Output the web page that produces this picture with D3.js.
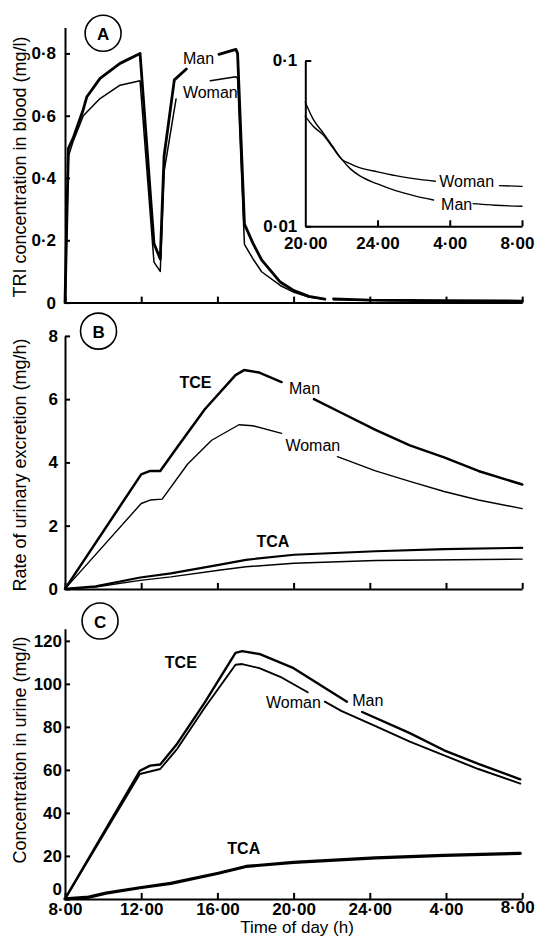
<!DOCTYPE html>
<html>
<head>
<meta charset="utf-8">
<script src="https://cdnjs.cloudflare.com/ajax/libs/d3/7.8.5/d3.min.js"></script>
<style>
body { margin: 0; background: #fff; }
text { font-family: "Liberation Sans", Arial, sans-serif; fill: #000; }
.axis path, .axis line { stroke: #000; stroke-width: 2; fill: none; }
.axis text { font-size: 17px; font-weight: bold; }
</style>
</head>
<body>
<div id="chart-area"></div>
<script>
// hours after 8.00 on day 1
var hourTicks = [0, 4, 8, 12, 16, 20, 24];
var hourLabels = ["8·00", "12·00", "16·00", "20·00", "24·00", "4·00", "8·00"];
var insetTicks = [12, 16, 20, 24];
var insetLabels = ["20·00", "24·00", "4·00", "8·00"];

var bloodTicks = [0, 0.2, 0.4, 0.6, 0.8];
var bloodLabels = ["0", "0·2", "0·4", "0·6", "0·8"];
var insetYTicks = [0.01, 0.1];
var insetYLabels = ["0·01", "0·1"];
var rateTicks = [0, 2, 4, 6, 8];
var urineTicks = [0, 20, 40, 60, 80, 100, 120];

// A: TRI in blood (mg/l), [hour, value], null = break in the line
var bloodMan = [[0, 0], [0.18, 0.495], [0.44, 0.53], [0.96, 0.62], [1.14, 0.66], [1.84, 0.72], [2.89, 0.768], [3.94, 0.80],
  [4.67, 0.19], [5.0, 0.14], [5.2, 0.47], [5.74, 0.715], [6.37, 0.75], null,
  [8.08, 0.797], [8.97, 0.813], [9.06, 0.80], [9.42, 0.252], [9.87, 0.19], [10.32, 0.137], [11.3, 0.066], [12.02, 0.0385], [12.8, 0.02], [13.64, 0.011], null,
  [14.1, 0.012], [16, 0.008], [20, 0.006], [24, 0.005]];
var bloodWoman = [[0, 0], [0.18, 0.47], [0.44, 0.52], [0.96, 0.60], [1.84, 0.655], [2.89, 0.698], [3.94, 0.712],
  [4.67, 0.13], [5.0, 0.10], [5.2, 0.42], [5.83, 0.654], null,
  [7.63, 0.712], [8.97, 0.725], [9.06, 0.72], [9.42, 0.187], [9.87, 0.14], [10.32, 0.099], [11.3, 0.055], [12.02, 0.033], [12.8, 0.018], [13.64, 0.011], null,
  [14.1, 0.009], [18, 0.006], [24, 0.004]];

// A inset: log scale, 20.00 - 8.00
var insetMan = [[12, 0.056], [12.45, 0.044], [13, 0.0365], [13.5, 0.0305], [14, 0.0255], [14.5, 0.0222], [15, 0.0202], [16, 0.0180], [17, 0.0164], [18, 0.0153], [19.1, 0.0144], null,
  [21.3, 0.0137], [22.5, 0.0134], [24, 0.0132]];
var insetWoman = [[12, 0.046], [12.45, 0.040], [13, 0.0355], [13.5, 0.0300], [14, 0.0255], [14.5, 0.0238], [15, 0.0226], [16, 0.0213], [17, 0.0202], [18, 0.0194], [19.2, 0.0187], null,
  [22.75, 0.0176], [24, 0.0174]];

// B: urinary excretion rate (mg/h)
var rateTceMan = [[0, 0], [4.0, 3.62], [4.47, 3.73], [5.0, 3.73], [5.9, 4.49], [7.34, 5.68], [8.95, 6.76], [9.4, 6.92], [10.2, 6.84], [11.37, 6.54], null,
  [13.07, 6.0], [14.5, 5.57], [16.3, 5.03], [18.1, 4.54], [19.9, 4.16], [21.7, 3.73], [24, 3.30]];
var rateTceWoman = [[0, 0], [4.0, 2.70], [4.47, 2.81], [5.1, 2.84], [6.44, 3.95], [7.7, 4.70], [9.13, 5.19], [9.85, 5.16], [11.37, 4.92], null,
  [14.3, 4.18], [16.3, 3.73], [18.1, 3.40], [19.9, 3.08], [21.7, 2.81], [24, 2.54]];
var rateTcaMan = [[0, 0], [1.6, 0.08], [3.95, 0.36], [5.56, 0.49], [8.07, 0.76], [9.5, 0.92], [12.02, 1.08], [16.3, 1.19], [19.9, 1.26], [24, 1.30]];
var rateTcaWoman = [[0, 0], [1.6, 0.06], [3.95, 0.27], [5.56, 0.38], [8.07, 0.59], [9.5, 0.70], [12.02, 0.81], [16.3, 0.90], [24, 0.94]];

// C: concentration in urine (mg/l)
var urineTceMan = [[0, 0], [3.93, 59.6], [4.47, 62], [5.0, 62.5], [5.9, 72.3], [7.34, 91.4], [8.95, 114.4], [9.3, 115.2], [10.2, 113.9], [12, 107.3], [14.8, 91.7], null,
  [15.6, 86.9], [18.1, 77.1], [19.9, 69.1], [21.7, 62.8], [23.9, 55.6]];
var urineTceWoman = [[0, 0], [3.93, 58.1], [5.0, 60.4], [5.9, 69.9], [7.34, 89], [8.95, 108.9], [9.3, 109.2], [10.2, 107.3], [11.3, 103.3], [12.74, 96.1], null,
  [13.64, 91.7], [14.5, 87.4], [16.3, 80.3], [18.1, 73.1], [19.9, 66.7], [21.7, 60.4], [23.9, 53.6]];
var urineTca = [[0, 0], [1.25, 0.8], [2.15, 2.7], [3.93, 5.2], [5.55, 7.2], [8.05, 11.9], [9.5, 15.1], [12, 17.0], [16.3, 19.1], [19.9, 20.2], [23.9, 21.2]];

// --- canvas ---
var canvasWidth = 535;
var canvasHeight = 937;
var canvas = d3.select("#chart-area").append("svg")
  .attr("width", canvasWidth)
  .attr("height", canvasHeight);

var x = d3.scaleLinear().domain([0, 24]).range([65, 522.2]);

var yA = d3.scaleLinear().domain([0, 0.8835]).range([302.6, 27.4]);
var yB = d3.scaleLinear().domain([0, 8]).range([588.9, 335.9]);
var yC = d3.scaleLinear().domain([0, 125.6]).range([898.9, 628.8]);

var xInset = d3.scaleLinear().domain([12, 24]).range([305.3, 522]);
var yInset = d3.scaleLog().domain([0.01, 0.1]).range([226.3, 60.5]);

function drawLine(xs, ys, data, width, curve) {
  var line = d3.line()
    .defined(function(d) { return d !== null; })
    .x(function(d) { return xs(d[0]); })
    .y(function(d) { return ys(d[1]); })
    .curve(curve || d3.curveLinear);
  canvas.append("path")
    .datum(data)
    .attr("d", line)
    .attr("fill", "none")
    .attr("stroke", "#000")
    .attr("stroke-width", width)
    .attr("stroke-linejoin", "round")
    .attr("stroke-linecap", "round");
}

function xAxisFor(ys, withLabels) {
  var axis = d3.axisBottom(x)
    .tickValues(hourTicks)
    .tickSizeInner(-6)
    .tickSizeOuter(0)
    .tickPadding(4)
    .tickFormat(function(d, i) { return withLabels ? hourLabels[i] : ""; });
  var g = canvas.append("g")
    .attr("class", "axis")
    .attr("transform", "translate(0," + ys(0) + ")")
    .call(axis);
  return g;
}

function yAxisFor(ys, ticks, labels, pad) {
  var axis = d3.axisLeft(ys)
    .tickValues(ticks)
    .tickSizeInner(-5)
    .tickSizeOuter(0)
    .tickPadding(pad)
    .tickFormat(function(d, i) { return labels ? labels[i] : d; });
  var g = canvas.append("g")
    .attr("class", "axis")
    .attr("transform", "translate(" + x(0) + ",0)")
    .call(axis);
  return g;
}

function label(px, py, txt, bold) {
  canvas.append("text")
    .attr("x", px)
    .attr("y", py)
    .attr("dominant-baseline", "central")
    .attr("font-size", "16px")
    .attr("font-weight", bold ? "bold" : "normal")
    .text(txt);
}

function panelBadge(px, py, letter) {
  canvas.append("circle")
    .attr("cx", px).attr("cy", py).attr("r", 18)
    .attr("fill", "none").attr("stroke", "#000").attr("stroke-width", 1.6);
  canvas.append("text")
    .attr("x", px).attr("y", py + 1)
    .attr("text-anchor", "middle")
    .attr("dominant-baseline", "central")
    .attr("font-size", "17px")
    .attr("font-weight", "bold")
    .text(letter);
}

function yTitle(cy, txt) {
  canvas.append("text")
    .attr("transform", "translate(26," + cy + ") rotate(-90)")
    .attr("text-anchor", "middle")
    .attr("font-size", "18px")
    .text(txt);
}

// --- Panel A ---
xAxisFor(yA, false);
yAxisFor(yA, bloodTicks, bloodLabels, 9);
drawLine(x, yA, bloodWoman, 1.5);
drawLine(x, yA, bloodMan, 2.8);
label(x(6.19), yA(0.783), "Man");
label(x(6.19), yA(0.673), "Woman");
panelBadge(x(2.0), yA(0.8645), "A");
yTitle(167, "TRI concentration in blood (mg/l)");

// inset
var insetX = canvas.append("g")
  .attr("class", "axis")
  .attr("transform", "translate(0," + yInset(0.01) + ")")
  .call(d3.axisBottom(xInset)
    .tickValues(insetTicks)
    .tickSizeInner(-6)
    .tickSizeOuter(0)
    .tickPadding(11)
    .tickFormat(function(d, i) { return insetLabels[i]; }));
insetX.selectAll(".tick").filter(function(d) { return d === 12; }).select("line").remove();
insetX.selectAll(".tick").filter(function(d) { return d === 24; }).select("text")
  .attr("text-anchor", "end").attr("x", 12);
canvas.append("g")
  .attr("class", "axis")
  .attr("transform", "translate(" + xInset(12) + ",0)")
  .call(d3.axisLeft(yInset)
    .tickValues(insetYTicks)
    .tickSizeInner(-6)
    .tickSizeOuter(0)
    .tickPadding(8)
    .tickFormat(function(d, i) { return insetYLabels[i]; }));
drawLine(xInset, yInset, insetWoman, 1.4, d3.curveMonotoneX);
drawLine(xInset, yInset, insetMan, 1.4, d3.curveMonotoneX);
label(xInset(19.42), yInset(0.0187), "Woman");
label(xInset(19.52), yInset(0.01353), "Man");

// --- Panel B ---
xAxisFor(yB, false);
yAxisFor(yB, rateTicks, null, 7);
drawLine(x, yB, rateTceWoman, 1.4);
drawLine(x, yB, rateTceMan, 2.5);
drawLine(x, yB, rateTcaWoman, 1.4);
drawLine(x, yB, rateTcaMan, 2.2);
label(x(6.01), yB(6.54), "TCE", true);
label(x(11.76), yB(6.35), "Man");
label(x(11.57), yB(4.54), "Woman");
label(x(10.05), yB(1.51), "TCA", true);
panelBadge(x(1.76), yB(8.15), "B");
yTitle(465, "Rate of urinary excretion (mg/h)");

// --- Panel C ---
var cAxis = xAxisFor(yC, true);
cAxis.selectAll(".tick").filter(function(d) { return d === 24; }).select("text")
  .attr("text-anchor", "end").attr("x", 12).attr("y", 2);
var cYAxis = yAxisFor(yC, urineTicks, null, 3);
// the zero label sits a little above the corner, clear of the 8.00 label
cYAxis.selectAll(".tick").filter(function(d) { return d === 0; }).select("text")
  .attr("y", -10);
drawLine(x, yC, urineTceWoman, 1.9);
drawLine(x, yC, urineTceMan, 2.4);
drawLine(x, yC, urineTca, 3.2);
label(x(5.24), yC(110), "TCE", true);
label(x(10.55), yC(91.1), "Woman");
label(x(15.08), yC(92.2), "Man");
label(x(8.52), yC(23.5), "TCA", true);
panelBadge(x(1.84), yC(129.2), "C");
yTitle(750, "Concentration in urine (mg/l)");

canvas.append("text")
  .attr("x", 297)
  .attr("y", 927.5)
  .attr("text-anchor", "middle")
  .attr("dominant-baseline", "central")
  .attr("font-size", "17px")
  .text("Time of day (h)");
</script>
</body>
</html>
